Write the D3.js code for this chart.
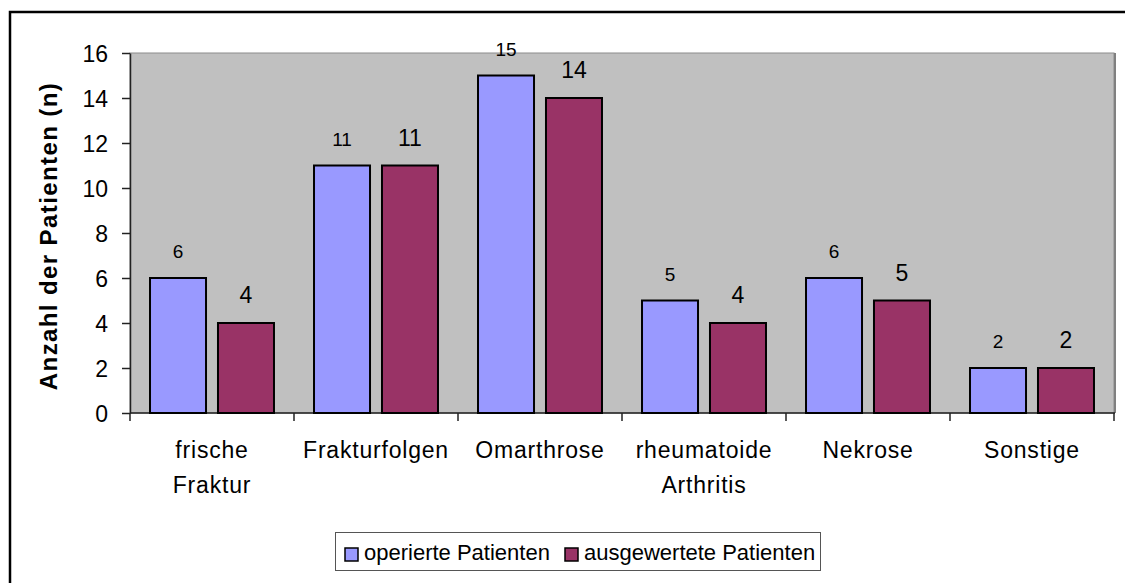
<!DOCTYPE html>
<html>
<head>
<meta charset="utf-8">
<script src="https://cdn.jsdelivr.net/npm/d3@7"></script>
<style>
  body { margin: 0; background: #fff; }
  text { font-family: 'Liberation Sans', Arial, sans-serif; }
</style>
</head>
<body>
<script>
const width = 1125;
const height = 583;

// data
const categories = ['frische Fraktur', 'Frakturfolgen', 'Omarthrose', 'rheumatoide Arthritis', 'Nekrose', 'Sonstige'];
const seriesNames = ['operierte Patienten', 'ausgewertete Patienten'];
const operiert = [6, 11, 15, 5, 6, 2];
const ausgewertet = [4, 11, 14, 4, 5, 2];
const yTicks = [0, 2, 4, 6, 8, 10, 12, 14, 16];

const colors = ['#9999FF', '#993366'];
const labelSizes = ['19px', '23px'];

const svg = d3.select('body')
  .append('svg')
  .attr('width', width)
  .attr('height', height);

// outer frame
svg.append('rect')
  .attr('x', 10).attr('y', 12)
  .attr('width', 1200).attr('height', 700)
  .attr('fill', 'none')
  .attr('stroke', '#000')
  .attr('stroke-width', 2.5);

const plot = { left: 130, right: 1114, top: 53, bottom: 413 };

const x0 = d3.scaleBand().domain(categories).range([plot.left, plot.right]).padding(0);
const bw = x0.bandwidth();
const x1 = d3.scaleBand().domain(seriesNames).range([bw * 0.122, bw * 0.878]).paddingInner(0.176);
const y = d3.scaleLinear().domain([0, 16]).range([plot.bottom, plot.top]);

// plot area
svg.append('rect')
  .attr('x', plot.left).attr('y', plot.top)
  .attr('width', plot.right - plot.left).attr('height', plot.bottom - plot.top)
  .attr('fill', '#C0C0C0')
  .attr('stroke', '#8c8c8c')
  .attr('stroke-width', 1);
svg.append('line')
  .attr('x1', plot.right + 1).attr('x2', plot.right + 1)
  .attr('y1', plot.top).attr('y2', plot.bottom)
  .attr('stroke', '#808080').attr('stroke-width', 2);

// y axis
const yAxis = svg.append('g')
  .attr('transform', `translate(${plot.left},0)`)
  .call(d3.axisLeft(y).tickValues(yTicks).tickSize(8).tickPadding(14).tickSizeOuter(0));
yAxis.select('.domain').attr('stroke', '#222').attr('stroke-width', 1.5);
yAxis.selectAll('.tick line').attr('stroke', '#222').attr('stroke-width', 1.5);
yAxis.selectAll('.tick text')
  .attr('font-size', '23px')
  .attr('fill', '#000')
  .style('font-family', "'Liberation Sans', Arial, sans-serif")
  .attr('dy', '0.36em');

// x axis line and boundary ticks
svg.append('line')
  .attr('x1', plot.left).attr('x2', plot.right + 1)
  .attr('y1', plot.bottom).attr('y2', plot.bottom)
  .attr('stroke', '#222').attr('stroke-width', 1.5);
const bounds = categories.map((c) => x0(c)).concat([x0(categories[categories.length - 1]) + bw]);
svg.selectAll('.xtick')
  .data(bounds)
  .enter()
  .append('line')
  .attr('class', 'xtick')
  .attr('x1', (d) => d).attr('x2', (d) => d)
  .attr('y1', plot.bottom).attr('y2', plot.bottom + 8)
  .attr('stroke', '#222').attr('stroke-width', 1.5);

// category labels
categories.forEach((c) => {
  const words = c.split(' ');
  const t = svg.append('text')
    .attr('x', x0(c) + bw / 2)
    .attr('y', 458)
    .attr('text-anchor', 'middle')
    .attr('font-size', '23px')
    .attr('letter-spacing', '0.8px')
    .attr('fill', '#000');
  words.forEach((w, i) => {
    t.append('tspan')
      .attr('x', x0(c) + bw / 2)
      .attr('dy', i === 0 ? 0 : 35)
      .text(w);
  });
});

// bars
const seriesData = [operiert, ausgewertet];
const groups = svg.selectAll('.cat')
  .data(categories)
  .enter()
  .append('g')
  .attr('class', 'cat')
  .attr('transform', (d) => `translate(${x0(d)},0)`);

seriesNames.forEach((s, si) => {
  groups.append('rect')
    .attr('x', x1(s))
    .attr('y', (d, i) => y(seriesData[si][i]))
    .attr('width', x1.bandwidth())
    .attr('height', (d, i) => y(0) - y(seriesData[si][i]))
    .attr('fill', colors[si])
    .attr('stroke', '#000')
    .attr('stroke-width', 2);

  groups.append('text')
    .attr('x', x1(s) + x1.bandwidth() / 2)
    .attr('y', (d, i) => y(seriesData[si][i]) - 20)
    .attr('text-anchor', 'middle')
    .attr('font-size', labelSizes[si])
    .attr('fill', '#000')
    .text((d, i) => seriesData[si][i]);
});

// y axis title
svg.append('text')
  .attr('transform', 'translate(57,236) rotate(-90)')
  .attr('text-anchor', 'middle')
  .attr('font-size', '24px')
  .attr('font-weight', 'bold')
  .attr('letter-spacing', '1.4px')
  .attr('fill', '#000')
  .text('Anzahl der Patienten (n)');

// legend
const legend = svg.append('g');
legend.append('rect')
  .attr('x', 335.5).attr('y', 532.5)
  .attr('width', 485).attr('height', 38)
  .attr('fill', '#fff')
  .attr('stroke', '#555')
  .attr('stroke-width', 1);

const legendX = [345, 565];
seriesNames.forEach((s, i) => {
  legend.append('rect')
    .attr('x', legendX[i]).attr('y', 548)
    .attr('width', 13).attr('height', 13)
    .attr('fill', colors[i])
    .attr('stroke', '#000')
    .attr('stroke-width', 1.5);
  legend.append('text')
    .attr('x', legendX[i] + 19)
    .attr('y', 560)
    .attr('font-size', '22px')
    .attr('fill', '#000')
    .text(s);
});
</script>
</body>
</html>
